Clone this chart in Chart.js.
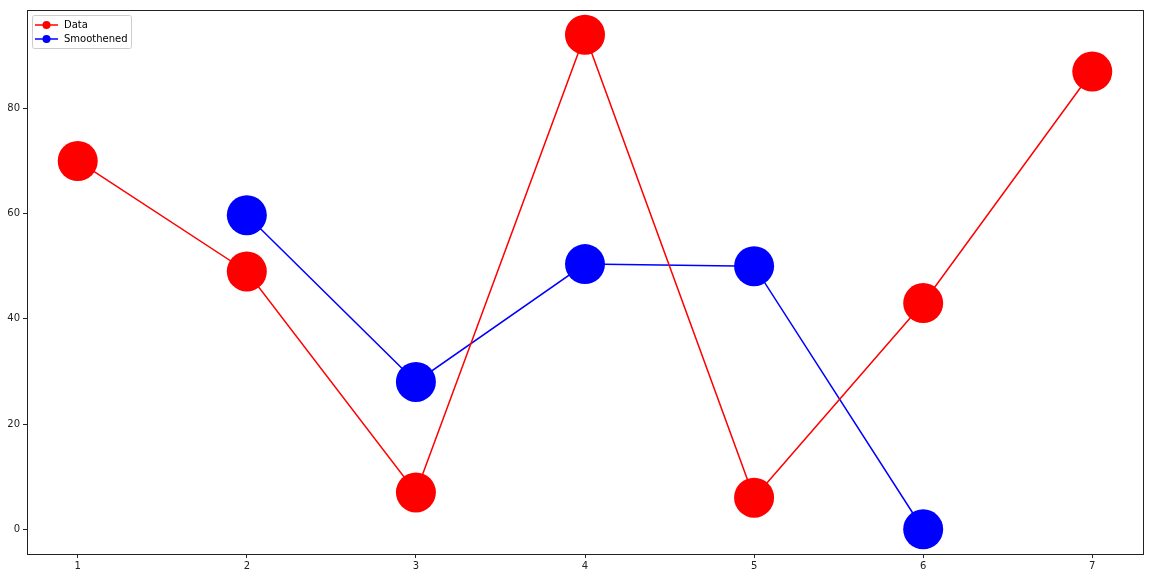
<!DOCTYPE html>
<html>
<head>
<meta charset="utf-8">
<script src="https://cdn.jsdelivr.net/npm/chart.js@4/dist/chart.umd.min.js"></script>
<style>
  html, body { margin: 0; padding: 0; background: #fff; }
  #wrap { width: 1153px; height: 578px; }
</style>
</head>
<body>
<div id="wrap"><canvas id="chart" width="1153" height="578"></canvas></div>
<script>
// values
const xTicks = [1, 2, 3, 4, 5, 6, 7];
const yTicks = [0, 20, 40, 60, 80];

const dataX = [1, 2, 3, 4, 5, 6, 7];
const dataY = [70, 49, 7, 94, 6, 43, 87];

const smoothX = [2, 3, 4, 5, 6];
const smoothY = [59.7, 28, 50.4, 50, 0];

const toPoints = (xs, ys) => xs.map((x, i) => ({ x: x, y: ys[i] }));

// matplotlib-style closed frame around the axes
const framePlugin = {
    id: 'frame',
    afterDraw(chart) {
        const a = chart.chartArea;
        const ctx = chart.ctx;
        ctx.save();
        ctx.strokeStyle = '#222';
        ctx.lineWidth = 1;
        ctx.strokeRect(Math.round(a.left) + 0.5, Math.round(a.top) + 0.5,
            Math.round(a.right - a.left), Math.round(a.bottom - a.top));
        ctx.restore();
    }
};

// legend box in the upper-left corner of the plot area
const legendPlugin = {
    id: 'innerLegend',
    afterDraw(chart) {
        const a = chart.chartArea;
        const ctx = chart.ctx;
        const x0 = a.left + 5, y0 = a.top + 5;
        const w = 99, h = 33;
        ctx.save();
        ctx.fillStyle = 'rgba(255,255,255,0.8)';
        ctx.strokeStyle = '#cccccc';
        ctx.lineWidth = 1;
        ctx.beginPath();
        ctx.roundRect(x0 + 0.5, y0 + 0.5, w, h, 2);
        ctx.fill();
        ctx.stroke();

        ctx.font = '10px "DejaVu Sans"';
        ctx.textBaseline = 'middle';
        chart.data.datasets.forEach((ds, i) => {
            const cy = y0 + 10 + i * 14;
            ctx.strokeStyle = ds.borderColor;
            ctx.lineWidth = 1.5;
            ctx.beginPath();
            ctx.moveTo(x0 + 3, cy);
            ctx.lineTo(x0 + 26, cy);
            ctx.stroke();
            ctx.fillStyle = ds.pointBackgroundColor;
            ctx.beginPath();
            ctx.arc(x0 + 14.5, cy, 4, 0, Math.PI * 2);
            ctx.fill();
            ctx.fillStyle = '#000';
            ctx.fillText(ds.label, x0 + 32, cy);
        });
        ctx.restore();
    }
};

const tickFont = { family: 'DejaVu Sans', size: 10 };

new Chart(document.getElementById('chart'), {
    type: 'line',
    data: {
        datasets: [
            {
                label: 'Data',
                data: toPoints(dataX, dataY),
                borderColor: '#ff0000',
                backgroundColor: '#ff0000',
                pointBackgroundColor: '#ff0000',
                pointBorderWidth: 0,
                pointRadius: 20,
                borderWidth: 1.5,
                tension: 0
            },
            {
                label: 'Smoothened',
                data: toPoints(smoothX, smoothY),
                borderColor: '#0000ff',
                backgroundColor: '#0000ff',
                pointBackgroundColor: '#0000ff',
                pointBorderWidth: 0,
                pointRadius: 20,
                borderWidth: 1.5,
                tension: 0
            }
        ]
    },
    options: {
        responsive: false,
        animation: false,
        devicePixelRatio: 1,
        layout: { autoPadding: false, padding: { top: 10, right: 10, left: 0, bottom: 0 } },
        plugins: {
            legend: { display: false },
            tooltip: { enabled: false }
        },
        events: [],
        scales: {
            x: {
                type: 'linear',
                min: 0.7,
                max: 7.3,
                afterBuildTicks: (scale) => {
                    scale.ticks = xTicks.map(v => ({ value: v }));
                },
                afterFit: (scale) => { scale.height = 24; },
                grid: {
                    display: true,
                    drawOnChartArea: false,
                    drawTicks: true,
                    tickLength: 4,
                    tickColor: '#222'
                },
                border: { display: true, color: '#222' },
                ticks: {
                    color: '#222',
                    font: tickFont,
                    padding: 2,
                    maxRotation: 0,
                    autoSkip: false
                }
            },
            y: {
                type: 'linear',
                min: -4.7,
                max: 98.7,
                afterBuildTicks: (scale) => {
                    scale.ticks = yTicks.map(v => ({ value: v }));
                },
                afterFit: (scale) => { scale.width = 27; },
                grid: {
                    display: true,
                    drawOnChartArea: false,
                    drawTicks: true,
                    tickLength: 4,
                    tickColor: '#222'
                },
                border: { display: true, color: '#222' },
                ticks: {
                    color: '#222',
                    font: tickFont,
                    padding: 3,
                    autoSkip: false
                }
            }
        }
    },
    plugins: [framePlugin, legendPlugin]
});
</script>
</body>
</html>
